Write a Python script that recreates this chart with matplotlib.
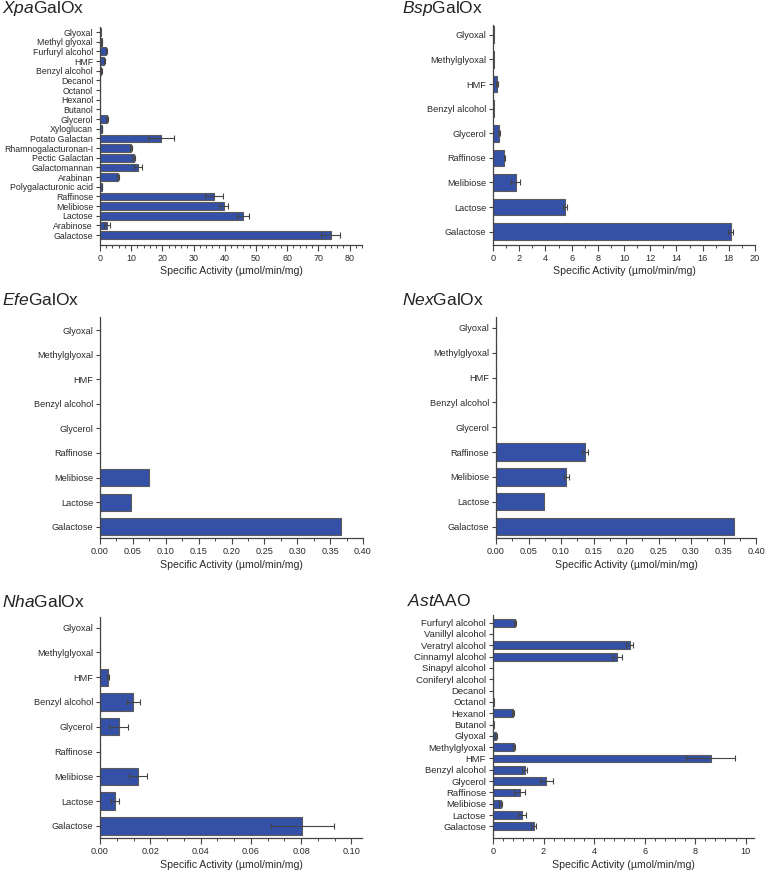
import numpy as np
import matplotlib
matplotlib.use("Agg")
import matplotlib.pyplot as plt
from matplotlib.ticker import MultipleLocator, AutoMinorLocator

plt.rcParams['font.family'] = ['Liberation Sans', 'DejaVu Sans']
plt.rcParams['mathtext.fontset'] = 'custom'
plt.rcParams['mathtext.rm'] = 'Liberation Sans'
plt.rcParams['mathtext.it'] = 'Liberation Sans:italic'

# --- data (bottom to top) ---
xpa_labels = ["Galactose", "Arabinose", "Lactose", "Melibiose", "Raffinose",
              "Polygalacturonic acid", "Arabinan", "Galactomannan", "Pectic Galactan",
              "Rhamnogalacturonan-I", "Potato Galactan", "Xyloglucan", "Glycerol",
              "Butanol", "Hexanol", "Octanol", "Decanol", "Benzyl alcohol", "HMF",
              "Furfuryl alcohol", "Methyl glyoxal", "Glyoxal"]
xpa_vals = [74.0, 2.3, 45.8, 39.6, 36.5, 0.7, 5.7, 12.1, 10.8, 10.0, 19.5, 0.6, 2.3,
            0.1, 0.1, 0.0, 0.0, 0.4, 1.4, 2.0, 0.5, 0.2]
xpa_err = [3.0, 0.9, 2.0, 1.3, 2.9, 0.1, 0.3, 1.3, 0.4, 0.3, 4.2, 0.1, 0.4,
           0, 0, 0, 0, 0.1, 0.2, 0.1, 0.1, 0]

short_labels = ["Galactose", "Lactose", "Melibiose", "Raffinose", "Glycerol",
                "Benzyl alcohol", "HMF", "Methylglyoxal", "Glyoxal"]

bsp_vals = [18.15, 5.5, 1.73, 0.87, 0.46, 0.05, 0.3, 0.05, 0.04]
bsp_err = [0.2, 0.15, 0.35, 0.05, 0.1, 0, 0.05, 0, 0]

efe_vals = [0.366, 0.0476, 0.0744, 0, 0, 0, 0, 0, 0]
efe_err = [0, 0, 0, 0, 0, 0, 0, 0, 0]

nex_vals = [0.366, 0.074, 0.108, 0.137, 0, 0, 0, 0, 0]
nex_err = [0, 0, 0.004, 0.004, 0, 0, 0, 0, 0]

nha_vals = [0.0805, 0.0058, 0.0151, 0, 0.0074, 0.0133, 0.0031, 0, 0]
nha_err = [0.0124, 0.0016, 0.0037, 0, 0.0039, 0.0026, 0.0005, 0, 0]

ast_labels = ["Galactose", "Lactose", "Melibiose", "Raffinose", "Glycerol",
              "Benzyl alcohol", "HMF", "Methylglyoxal", "Glyoxal", "Butanol",
              "Hexanol", "Octanol", "Decanol", "Coniferyl alcohol", "Sinapyl alcohol",
              "Cinnamyl alcohol", "Veratryl alcohol", "Vanillyl alcohol", "Furfuryl alcohol"]
ast_vals = [1.61, 1.13, 0.3, 1.05, 2.11, 1.25, 8.61, 0.83, 0.12, 0.04,
            0.79, 0.02, 0, 0, 0, 4.9, 5.41, 0, 0.87]
ast_err = [0.1, 0.16, 0.07, 0.21, 0.26, 0.1, 0.98, 0.05, 0.03, 0,
           0.03, 0, 0, 0, 0, 0.2, 0.15, 0, 0.03]

W, H = 765, 872
fig = plt.figure(figsize=(W / 100, H / 100), dpi=100)

BAR = '#3451a7'
EDGE = '#5a5a5a'
TXT = '#2a2a2a'


def px_axes(l, r, t, b):
    return fig.add_axes([l / W, 1 - b / H, (r - l) / W, (b - t) / H])


def panel(box, labels, vals, errs, xmax, major, nminor, ylim, height, fs, title, tpos,
          tfs=6.6):
    ax = px_axes(*box)
    y = np.arange(len(labels))
    ax.barh(y, vals, height=height, color=BAR, edgecolor=EDGE, linewidth=0.8)
    e = np.array(errs, dtype=float)
    m = e > 0
    ax.errorbar(np.array(vals)[m], y[m], xerr=e[m], fmt='none', ecolor='#444444',
                elinewidth=0.8, capsize=2, capthick=0.8)
    ax.set_yticks(y)
    ax.set_yticklabels(labels, fontsize=fs, color=TXT)
    ax.set_ylim(*ylim)
    ax.set_xlim(0, xmax)
    ax.xaxis.set_major_locator(MultipleLocator(major))
    ax.xaxis.set_minor_locator(AutoMinorLocator(nminor))
    for s in ['top', 'right']:
        ax.spines[s].set_visible(False)
    for s in ['left', 'bottom']:
        ax.spines[s].set_color('#444444')
        ax.spines[s].set_linewidth(0.9)
    ax.tick_params(axis='x', which='major', length=4, width=0.8, labelsize=tfs,
                   colors='#444444', labelcolor=TXT, pad=2.5)
    ax.tick_params(axis='x', which='minor', length=2, width=0.7, colors='#444444')
    ax.tick_params(axis='y', length=3, width=0.8, colors='#444444', labelcolor=TXT, pad=2)
    ax.set_xlabel("Specific Activity (µmol/min/mg)", fontsize=7.6, color=TXT, labelpad=2.5)
    fig.text(tpos[0] / W, 1 - tpos[1] / H, title, fontsize=12.5, color='#222222',
             ha='left', va='center')
    return ax


ax1 = panel((100, 362, 27, 245), xpa_labels, xpa_vals, xpa_err, 84, 10, 5,
            (-1.03, 21.52), 0.8, 6.3, r"$\it{Xpa}$GalOx", (2, 9), tfs=6.4)
ax1.xaxis.set_major_formatter(plt.FuncFormatter(lambda v, p: f"{v:.0f}" if v <= 80 else ""))

panel((493, 755, 25, 245), short_labels, bsp_vals, bsp_err, 20, 2, 2,
      (-0.54, 8.4), 0.68, 6.6, r"$\it{Bsp}$GalOx", (402, 9))

panel((100, 363, 317, 538), short_labels, efe_vals, efe_err, 0.40, 0.05, 2,
      (-0.46, 8.53), 0.7, 6.6, r"$\it{Efe}$GalOx", (2, 300))
fig.axes[-1].xaxis.set_major_formatter(plt.FuncFormatter(lambda v, p: f"{v:.2f}"))

panel((496, 756, 317, 538), short_labels, nex_vals, nex_err, 0.40, 0.05, 2,
      (-0.46, 8.44), 0.7, 6.6, r"$\it{Nex}$GalOx", (402, 300))
fig.axes[-1].xaxis.set_major_formatter(plt.FuncFormatter(lambda v, p: f"{v:.2f}"))

panel((100, 362, 617, 838), short_labels, nha_vals, nha_err, 0.1042, 0.02, 3,
      (-0.49, 8.43), 0.7, 6.6, r"$\it{Nha}$GalOx", (2, 602))
fig.axes[-1].xaxis.set_major_formatter(plt.FuncFormatter(lambda v, p: f"{v:.2f}"))

panel((493, 754, 615, 838), ast_labels, ast_vals, ast_err, 10.33, 2, 5,
      (-1.02, 18.67), 0.7, 6.8, r"$\it{Ast}$AAO", (407, 601))

fig.savefig("out.png", dpi=100)
